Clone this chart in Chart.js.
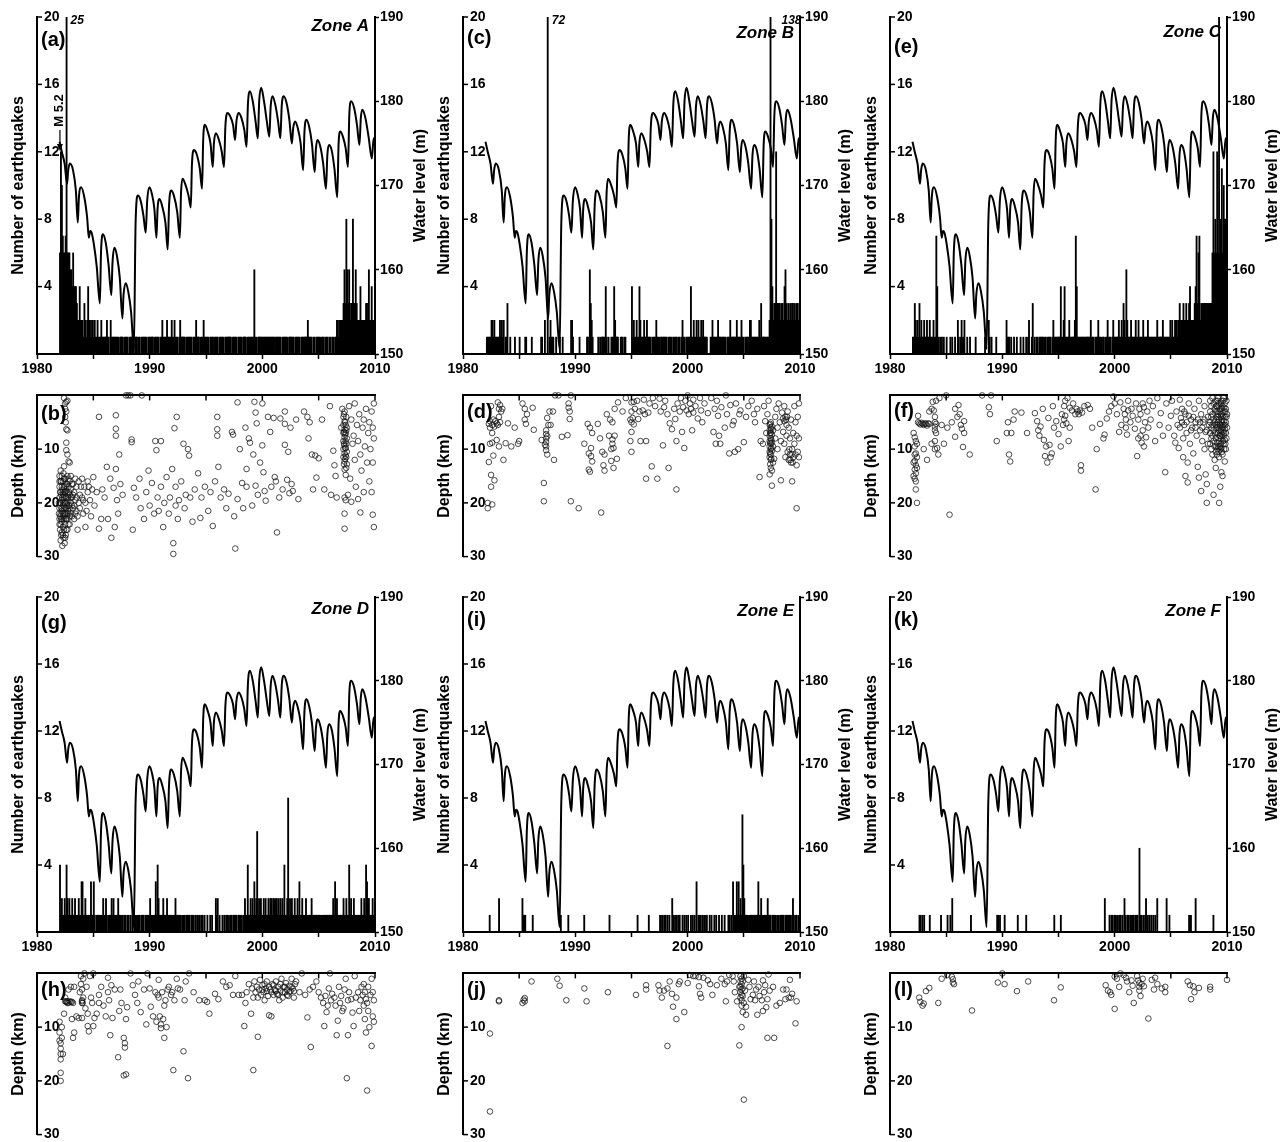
<!DOCTYPE html>
<html><head><meta charset="utf-8">
<script src="https://cdn.jsdelivr.net/npm/chart.js@4.4.1/dist/chart.umd.min.js"></script>
<style>
html,body{margin:0;padding:0;background:#fff;overflow:hidden;}
#wrap{position:relative;width:1281px;height:1142px;overflow:hidden;background:#fff;}
canvas{position:absolute;}
</style></head><body><div id="wrap"></div>
<script>
// ---------------- DATA ----------------
const xTickLabels = ['1980','1990','2000','2010'];
const countTicks = ['4','8','12','16','20'];
const waterTicks = ['150','160','170','180','190'];
const depthTicks = ['10','20','30'];
const zoneNames = ['Zone A','Zone B','Zone C','Zone D','Zone E','Zone F'];
const firstYear = 1982; // monthly bins start Jan 1982

// Water level (m) shared by all panels
const wlYear = [1982.00,1982.20,1982.45,1982.67,1982.77,1982.92,1983.20,1983.45,1983.62,1983.72,1983.92,1984.20,1984.45,1984.60,1984.72,1984.85,1985.05,1985.30,1985.58,1985.68,1985.85,1986.10,1986.35,1986.60,1986.70,1986.88,1987.10,1987.35,1987.58,1987.68,1987.88,1988.10,1988.35,1988.60,1988.75,1988.95,1989.20,1989.45,1989.65,1989.78,1989.98,1990.20,1990.42,1990.60,1990.70,1990.88,1991.10,1991.40,1991.60,1991.72,1991.90,1992.15,1992.45,1992.68,1992.78,1992.92,1993.15,1993.45,1993.65,1993.75,1993.92,1994.15,1994.45,1994.65,1994.75,1994.90,1995.15,1995.40,1995.60,1995.70,1995.88,1996.15,1996.40,1996.60,1996.72,1996.92,1997.15,1997.40,1997.58,1997.70,1997.90,1998.15,1998.40,1998.60,1998.72,1998.90,1999.15,1999.40,1999.60,1999.72,1999.90,2000.15,2000.40,2000.62,2000.74,2000.90,2001.15,2001.40,2001.60,2001.72,2001.90,2002.15,2002.40,2002.62,2002.74,2002.90,2003.15,2003.40,2003.62,2003.74,2003.92,2004.15,2004.40,2004.65,2004.76,2004.90,2005.15,2005.40,2005.65,2005.77,2005.92,2006.15,2006.40,2006.65,2006.77,2006.92,2007.15,2007.40,2007.60,2007.72,2007.88,2008.15,2008.40,2008.62,2008.74,2008.88,2009.15,2009.45,2009.72,2009.88,2010.00];
const wlLevel = [175.2,174.0,172.6,170.2,171.8,172.6,171.8,169.4,165.6,168.6,169.8,168.6,166.2,163.8,164.6,164.4,163.0,160.4,156.0,162.0,164.2,163.2,160.6,157.0,160.8,162.6,161.6,159.0,154.2,157.0,158.4,157.4,155.0,150.6,165.5,168.8,168.2,166.4,164.4,168.2,169.8,169.0,167.2,163.8,167.2,168.4,167.6,165.6,162.4,167.6,169.4,168.8,166.8,163.8,169.0,170.8,170.2,168.8,167.4,172.4,174.2,173.8,172.0,169.6,175.4,177.2,176.4,175.0,172.2,175.0,176.2,175.4,174.0,172.2,177.0,178.6,178.2,177.2,175.4,177.6,178.6,178.0,176.6,174.6,179.6,181.2,180.0,177.6,175.6,180.0,181.6,180.0,177.6,175.8,179.4,180.6,179.6,177.6,175.6,179.4,180.6,179.8,177.8,175.0,176.8,177.6,176.8,175.0,171.8,176.4,177.8,177.0,175.0,171.6,174.4,175.4,174.6,172.6,169.6,173.6,174.8,174.2,172.0,168.6,175.0,176.4,175.8,174.4,172.2,178.4,180.0,179.2,177.2,174.8,178.0,179.0,178.0,175.6,173.2,175.6,175.0];

// Monthly number of earthquakes, Jan 1982 .. Dec 2009 (one row per year)
const countsA = [
6,12,10,7,6,6,7,25,6,6,6,5, 5,4,6,4,4,4,3,2,2,4,2,2, 2,1,3,2,1,2,4,2,1,2,1,2, 1,2,1,1,2,1,1,1,2,1,1,1,
1,1,2,1,1,0,2,1,1,1,1,1, 1,1,1,0,1,1,1,1,0,1,1,1, 1,0,1,1,1,1,1,0,1,1,1,0, 1,1,0,1,1,1,1,1,1,0,1,1,
1,1,1,1,0,1,1,1,1,1,0,1, 1,2,1,1,1,1,2,1,1,1,1,2, 1,1,2,1,1,1,0,1,2,1,1,1, 1,1,0,1,1,1,1,1,1,0,1,1,
1,2,1,1,1,0,1,1,1,2,1,1, 1,1,1,0,1,1,1,1,0,1,1,1, 1,0,1,1,1,1,1,0,1,1,1,1, 1,1,1,0,1,1,1,1,1,0,1,1,
1,1,0,1,1,1,1,0,1,1,1,1, 1,1,1,5,1,1,0,1,1,1,1,1, 1,1,1,1,1,1,1,1,1,1,1,1, 1,0,1,1,1,1,1,1,0,1,1,1,
1,1,1,0,1,1,1,1,1,1,0,1, 1,1,1,1,0,1,1,1,1,1,1,1, 2,1,1,1,1,0,1,1,0,1,1,1, 1,1,0,1,1,1,0,1,1,1,0,1,
1,0,1,1,0,1,1,2,2,1,2,2, 2,2,3,5,3,8,5,3,5,2,3,3, 8,3,3,5,3,2,2,2,4,2,2,2, 2,2,3,3,2,5,2,2,4,2,2,2];
const countsB = [
0,1,1,1,1,1,2,2,1,2,1,1, 1,1,1,2,1,2,1,2,0,1,1,3, 0,0,1,0,0,0,0,1,0,0,0,0, 1,0,0,0,0,0,1,1,0,0,0,0,
0,1,0,0,0,0,0,0,0,0,0,1, 1,0,0,2,0,0,72,0,1,2,1,1, 1,0,0,1,0,0,0,1,0,0,1,0, 0,0,0,0,0,0,0,2,2,1,0,0,
0,0,0,0,1,0,0,0,0,0,0,0, 1,1,0,5,3,2,1,0,0,0,0,0, 1,0,1,0,1,1,1,1,4,1,0,1, 0,0,1,1,1,4,2,1,1,1,0,0,
1,1,1,0,1,1,0,0,0,0,0,0, 4,1,2,1,1,2,1,1,4,2,1,1, 1,2,1,1,2,1,1,1,1,0,1,1, 1,1,2,1,1,1,0,1,1,1,1,1,
1,1,0,1,1,1,1,0,1,1,0,1, 1,0,1,1,0,1,2,1,1,0,1,1, 1,1,1,4,1,1,2,1,1,2,1,2, 1,1,2,1,2,1,1,1,1,0,0,0,
1,1,2,1,1,1,1,1,2,1,1,1, 1,1,1,1,1,0,1,1,1,2,1,1, 1,1,1,1,2,1,1,1,1,2,1,1, 0,1,1,1,1,0,2,2,1,1,1,1,
1,1,1,1,2,1,3,1,1,1,1,1, 1,1,1,2,138,8,4,2,3,3,12,3, 2,3,3,2,3,3,2,4,5,3,2,3, 2,3,2,3,3,2,3,2,3,3,2,3];
const countsC = [
1,1,3,2,1,2,1,3,1,2,1,1, 2,1,1,2,1,1,2,1,1,1,2,1, 1,7,4,1,0,1,0,1,0,1,0,0, 1,0,0,0,1,0,1,0,0,1,0,0,
2,1,0,1,2,1,1,2,0,0,1,0, 0,1,0,0,0,0,0,1,0,0,0,0, 0,0,0,0,0,1,0,0,0,2,1,0, 1,0,0,0,0,1,0,0,0,0,0,0,
0,0,0,0,2,1,1,1,0,1,0,0, 1,0,0,1,0,0,0,1,0,0,1,0, 0,1,0,1,2,0,0,1,3,0,1,0, 1,1,0,1,1,1,1,1,0,1,1,0,
1,1,1,1,0,1,2,1,1,1,1,1, 1,1,4,1,1,2,4,1,1,1,1,2, 1,1,1,1,1,2,7,4,1,1,1,1, 1,1,1,1,1,1,1,1,1,1,2,1,
1,1,0,1,1,1,2,1,1,1,0,1, 1,0,1,1,2,1,1,1,0,1,2,1, 1,1,1,1,2,1,1,2,1,3,2,1, 5,2,1,1,1,2,1,1,1,1,2,1,
1,2,1,1,1,1,2,1,1,1,1,2, 1,1,1,1,1,1,1,1,1,2,1,1, 1,1,1,2,1,1,1,1,1,1,1,2, 1,2,1,1,2,2,2,1,2,3,2,2,
2,3,2,2,3,2,2,3,4,2,2,2, 2,3,4,7,3,6,7,2,3,3,3,3, 3,3,3,3,3,3,3,3,6,12,6,8, 6,12,6,20,6,8,11,6,10,8,8,6];
const countsD = [
4,1,2,1,1,2,1,4,2,1,2,1, 1,2,1,1,2,1,1,1,2,1,1,3, 3,1,1,2,1,1,1,1,1,3,1,1, 3,1,0,1,1,1,1,1,1,1,2,1,
1,2,1,0,1,1,1,2,1,2,1,1, 1,1,2,1,1,0,1,1,0,1,1,0, 1,1,0,1,0,1,0,1,1,1,0,1, 1,1,0,1,1,1,0,1,1,1,1,1,
2,1,1,1,1,1,3,1,4,2,1,1, 1,1,2,1,1,1,2,1,1,1,1,1, 1,1,1,2,1,1,1,1,1,0,1,1, 1,1,0,1,1,1,1,0,1,1,1,0,
1,0,1,1,0,1,0,1,1,0,1,0, 0,1,0,0,1,0,1,0,0,0,2,1, 2,0,1,0,0,1,0,1,0,1,1,0, 1,0,1,1,0,1,1,1,1,0,1,1,
1,1,0,1,1,2,1,1,4,1,1,2, 1,2,1,3,1,2,6,1,2,1,2,1, 1,2,1,2,1,1,2,1,2,2,1,2, 2,1,2,2,1,2,1,2,1,2,1,4,
1,1,2,8,1,2,1,2,1,1,2,1, 1,2,1,3,1,1,2,1,1,1,2,1, 1,1,1,1,2,1,1,1,1,1,1,1, 1,1,1,1,1,1,1,1,1,1,1,1,
1,1,1,2,1,3,1,2,1,1,1,1, 1,1,2,1,1,2,1,1,4,1,2,1, 1,2,1,1,1,1,1,1,1,2,1,1, 2,1,4,3,2,2,1,1,1,2,1,1];
const countsE = [
0,0,0,0,1,0,0,0,0,0,0,0, 0,0,2,0,0,0,0,0,0,0,0,0, 0,0,0,0,0,0,0,0,0,0,0,0, 0,0,0,2,1,1,1,0,0,0,0,0,
0,0,1,0,0,0,0,0,0,0,0,0, 0,0,0,0,0,0,0,0,0,0,0,0, 0,0,0,0,0,0,0,0,1,0,0,0, 0,0,0,0,1,0,0,0,0,0,0,0,
0,0,0,0,0,0,0,0,0,1,0,0, 0,0,0,0,0,0,0,0,0,0,0,0, 0,0,0,0,0,0,0,0,0,0,0,0, 1,0,0,0,0,0,0,0,0,0,0,0,
0,0,0,0,0,0,0,0,0,0,0,0, 0,0,0,0,0,0,1,0,0,0,0,0, 0,0,0,0,0,0,1,0,0,0,0,0, 0,0,0,0,0,0,1,1,0,1,0,1,
1,0,1,0,1,0,0,2,1,0,1,0, 1,0,1,1,0,0,1,0,1,0,1,0, 1,0,0,1,0,1,0,1,0,3,0,1, 1,1,0,1,0,1,1,0,1,0,0,1,
0,1,0,0,1,0,1,0,0,1,0,0, 1,0,0,1,0,0,0,1,1,0,1,0, 3,0,1,1,3,1,3,1,2,1,7,4, 2,1,1,1,1,0,1,1,1,1,1,1,
1,1,1,3,1,1,2,1,1,1,1,1, 1,2,1,1,1,0,1,1,1,1,0,1, 1,1,0,1,1,1,1,0,1,1,1,1, 1,1,0,1,2,1,0,1,1,0,1,1];
const countsF = [
0,0,0,0,0,0,0,1,1,0,1,0, 1,0,0,0,0,0,1,0,0,0,0,0, 0,0,0,0,0,0,1,0,0,0,0,0, 0,1,0,0,1,0,2,0,0,0,0,0,
0,0,0,0,0,0,0,0,0,0,0,0, 0,0,1,0,0,0,0,0,0,0,0,0, 0,0,0,0,0,0,0,0,0,0,0,0, 0,0,0,0,0,0,1,1,0,1,0,0,
0,0,1,0,0,0,0,0,0,0,0,0, 0,0,0,0,1,0,0,0,0,0,0,0, 0,1,0,0,0,0,0,0,0,0,0,0, 0,0,0,0,0,0,0,0,0,0,0,0,
0,0,0,0,0,0,0,1,0,0,0,0, 0,0,1,0,0,0,0,0,0,0,0,0, 0,0,0,0,0,0,0,0,0,0,0,0, 0,0,0,0,0,0,0,0,0,0,0,0,
0,0,0,0,0,0,0,0,0,0,0,0, 0,2,0,0,0,0,1,0,1,1,0,1, 1,0,1,1,0,1,1,0,1,0,2,1, 0,1,1,0,1,1,0,1,1,0,1,1,
1,0,5,1,1,0,1,0,1,2,0,1, 0,1,0,1,0,1,0,1,0,2,0,0, 0,0,0,0,0,0,0,2,0,0,1,0, 0,0,0,0,0,0,0,0,0,0,0,0,
0,0,0,0,0,0,0,1,1,1,0,0, 0,0,2,0,0,0,0,0,0,0,0,0, 0,0,0,0,0,0,0,0,0,1,0,0, 0,0,0,0,0,0,0,0,0,0,0,0];

// Earthquake focal depth: [decimal year, depth km]
const depthA = [[1982.0,15],[1982.0,17],[1982.0,19],[1982.0,21],[1982.0,23],[1982.05,25],[1982.05,18],[1982.1,14],[1982.1,16],[1982.1,20],[1982.1,22],[1982.1,24],[1982.1,27],[1982.15,18.5],[1982.15,26],[1982.2,15],[1982.2,17],[1982.2,19.5],[1982.2,21.5],[1982.2,23.5],[1982.25,28],[1982.3,16],[1982.3,18],[1982.3,20],[1982.3,22],[1982.3,24.5],[1982.35,14.5],[1982.35,26.5],[1982.4,17],[1982.4,19],[1982.4,21],[1982.4,23],[1982.45,27.5],[1982.5,15.5],[1982.5,18],[1982.5,20],[1982.5,22],[1982.5,24],[1982.55,26],[1982.6,16.5],[1982.6,19],[1982.6,21],[1982.6,23],[1982.7,15],[1982.7,18],[1982.7,20.5],[1982.7,25],[1982.8,17],[1982.8,19.5],[1982.8,22],[1982.9,16],[1982.9,18.5],[1982.9,21],[1982.9,24],[1983.0,15],[1983.0,17.5],[1983.0,20],[1983.1,19],[1983.1,22.5],[1983.2,16.5],[1983.2,21],[1983.3,18],[1983.3,23],[1983.4,15.5],[1983.4,19.5],[1983.5,17],[1983.5,21.5],[1983.6,22.5],[1983.6,25],
[1981.95,20],[1981.95,22],[1982.0,16],[1982.0,24],[1982.05,20],[1982.05,22.5],[1982.1,18],[1982.15,16],[1982.15,21],[1982.15,23],[1982.2,25.5],[1982.25,17.5],[1982.25,19],[1982.25,21],[1982.25,23],[1982.3,26],[1982.35,18.5],[1982.35,20.5],[1982.35,22.5],[1982.4,15.5],[1982.4,25],[1982.45,18],[1982.45,20],[1982.45,22],[1982.5,16.8],[1982.5,26.5],[1982.55,19],[1982.55,21],[1982.55,23],[1982.6,17.8],[1982.6,25],[1982.65,20],[1982.65,22],[1982.7,16.5],[1982.7,23],[1982.75,19],[1982.75,21.5],[1982.8,15.5],[1982.8,24],[1982.85,18],[1982.85,20.5],[1982.9,22.5],[1983.0,19],[1983.0,22],[1983.1,16.5],[1983.1,20.5],[1983.2,18.5],[1983.3,20.5],[1983.4,22],[1983.5,19],[1983.7,20],[1983.9,17],[1984.1,19.5],[1984.4,21.5],[1984.6,17],
[1982.4,0.5],[1982.5,1.5],[1982.6,1.2],[1982.7,1],[1982.5,2.5],[1982.6,3],[1982.5,4],[1982.55,5],[1982.6,6.3],[1982.7,6.5],[1982.6,8.8],[1982.6,10.2],[1982.7,11],[1982.8,12.3],[1982.4,13.2],[1982.9,12.5],
[1983.7,16],[1983.8,18.5],[1983.8,21],[1984.0,15.5],[1984.0,19],[1984.1,22],[1984.2,17],[1984.3,20],[1984.3,24.5],[1984.5,18],[1984.5,16],[1984.7,19.5],[1984.8,22.5],[1984.9,17.5],[1985.0,15.2],[1985.1,20.5],[1985.3,18],[1985.5,4],[1985.5,24.8],[1985.7,23],[1985.8,17.5],[1986.0,19],[1986.2,13.3],[1986.3,23],[1986.5,15.5],[1986.6,26.5],[1986.8,17.2],[1986.9,24.5],[1987.0,3.7],[1987.0,6.2],[1987.0,7.5],[1987.0,13.7],[1987.1,19.5],[1987.2,22],[1987.3,11],[1987.4,16.5],[1987.6,18.5],[1987.9,0],[1988.1,0],[1988.3,0],[1988.4,8.2],[1988.4,8.7],[1988.5,25],[1988.6,17.2],[1988.8,19],[1989.1,15.5],[1989.2,21],[1989.3,0],[1989.5,23],[1989.7,18],[1989.9,14],[1990.0,20.5],[1990.2,16.3],[1990.4,22],[1990.5,8.5],[1990.6,10.2],[1990.7,19],[1990.8,21.5],[1991.0,8.5],[1991.0,17],[1991.2,24.5],[1991.3,20],[1991.5,15.2],[1991.7,22],[1991.8,19],[1992.0,13.7],[1992.1,27.5],[1992.1,29.5],[1992.2,6.1],[1992.3,17],[1992.3,20.5],[1992.4,4],[1992.5,23],[1992.6,19.5],[1992.8,16],[1993.0,9],[1993.1,21],[1993.2,18.5],[1993.4,10],[1993.5,11.2],[1993.6,19],[1993.8,23.5],[1994.0,17.5],[1994.3,14.5],[1994.5,22.8],[1994.6,19],[1994.9,17],[1995.2,21.5],[1995.4,18],[1995.6,24.3],[1995.8,16],[1996.0,4],[1996.0,6.3],[1996.0,7.5],[1996.1,13.3],[1996.3,19],[1996.6,17.5],[1996.8,21],[1997.0,18.3],[1997.3,6.8],[1997.4,7.3],[1997.5,22.5],[1997.6,28.5],[1997.8,1.3],[1997.8,19.3],[1998.0,10],[1998.2,16.3],[1998.3,21],[1998.5,6],[1998.6,13.7],[1998.6,17],[1998.8,8],[1998.9,8.8],[1999.1,20.5],[1999.2,11],[1999.3,1.2],[1999.4,3.2],[1999.4,16.8],[1999.5,5.2],[1999.6,18.5],[1999.8,12.5],[2000.0,1.5],[2000.0,9.3],[2000.1,14.3],[2000.2,17.8],[2000.3,19.6],[2000.5,4],[2000.7,6.8],[2000.8,17],[2001.0,4.2],[2001.1,15.2],[2001.2,16],[2001.3,25.5],[2001.5,19],[2001.6,4.3],[2001.8,17.5],[2002.0,3],[2002.0,5.3],[2002.0,9.2],[2002.2,15.7],[2002.3,10.5],[2002.4,18.2],[2002.5,6],[2002.6,16.5],[2002.7,17.8],[2003.0,4.5],[2003.2,19.3],[2003.7,3],[2004.0,4],[2004.1,8],[2004.2,5],[2004.4,11],[2004.5,17.5],[2004.7,11.2],[2004.8,15.3],[2005.0,11.7],[2005.3,4.5],[2005.5,17.5],[2006.0,2],[2006.1,18.5],[2006.3,10.3],[2006.4,13],[2006.5,15],[2006.6,19],
[2007.0,6],[2007.1,2.5],[2007.2,4],[2007.2,5.5],[2007.2,7],[2007.2,8.5],[2007.2,10],[2007.2,11.5],[2007.3,3],[2007.3,4.8],[2007.3,6.3],[2007.3,7.8],[2007.3,9.3],[2007.3,10.8],[2007.3,12.3],[2007.3,13.8],[2007.4,5.5],[2007.4,7],[2007.4,8.5],[2007.4,9.8],[2007.4,11.2],[2007.4,14.8],[2007.5,6],[2007.5,8],[2007.5,10.5],[2007.5,12.8],[2007.25,3.5],[2007.25,6.8],[2007.25,9],[2007.25,12.8],[2007.35,5],[2007.35,7.3],[2007.35,9.8],[2007.35,11.8],[2007.45,4],[2007.45,6.5],[2007.45,9],[2007.45,11.5],[2007.45,13.5],[2007.3,19],[2007.4,19.5],[2007.3,22],[2007.3,24.8],[2007.6,18.5],[2007.7,2],[2007.8,15.5],[2007.9,19.8],[2007.9,4.5],[2008.0,9],[2008.1,7.5],[2008.2,12],[2008.2,1.5],[2008.3,17],[2008.4,5.5],[2008.5,8.5],[2008.5,19.3],[2008.6,3.5],[2008.7,11],[2008.7,21.8],[2008.8,14],[2008.9,6],[2009.0,4.5],[2009.0,18],[2009.1,9.5],[2009.2,2.5],[2009.3,12.5],[2009.4,7],[2009.5,16],[2009.5,5],[2009.6,10],[2009.7,3],[2009.7,18],[2009.8,6],[2009.8,12.5],[2009.8,22.2],[2009.9,24.5],[2009.9,8],[2009.9,1.5]];
const depthB = [[1982.2,20],[1982.2,21],[1982.3,12.4],[1982.3,5.3],[1982.4,4.8],[1982.4,6],[1982.4,9],[1982.5,14.8],[1982.5,17],[1982.5,2],[1982.6,5.5],[1982.6,7],[1982.6,8.8],[1982.6,20.3],[1982.7,11.2],[1982.7,4.5],[1982.8,15.8],[1982.8,5.8],[1982.9,4.8],[1983.0,5.2],[1983.0,8.3],[1983.1,1.3],[1983.1,5.5],[1983.2,2.5],[1983.2,4],[1983.2,9.5],[1983.3,1.8],[1983.3,5],[1983.4,3],[1983.5,2.5],[1983.6,12],[1983.8,8.9],[1984.0,5.2],[1984.3,9.5],[1984.6,6],[1984.9,9],[1985.0,8.5],[1985.3,1.5],[1985.5,2.5],[1985.5,4.5],[1985.6,5.3],[1985.7,3.5],[1986.2,2.3],[1986.3,6.4],[1987.0,8.3],[1987.2,16.3],[1987.2,19.7],[1987.3,9.2],[1987.4,6.5],[1987.4,7.2],[1987.4,8],[1987.4,8.7],[1987.4,9.5],[1987.4,10.2],[1987.5,11],[1987.5,4.2],[1987.5,7.6],[1987.6,5.5],[1987.7,3],[1987.8,5.5],[1988.0,3],[1988.1,12],[1988.2,0],[1988.5,0],[1988.8,7.7],[1989.3,7.4],[1989.4,1.5],[1989.4,2.3],[1989.5,3],[1989.5,4.4],[1989.6,19.7],[1989.6,0],[1990.3,21],[1990.8,9],[1991.1,5.3],[1991.2,10.8],[1991.2,13.8],[1991.3,14.2],[1991.3,6],[1991.4,9.8],[1991.4,11.3],[1991.5,12.3],[1991.5,7],[1992.0,5.3],[1992.2,8],[1992.3,21.8],[1992.4,10.5],[1992.5,13],[1992.6,14],[1992.6,11],[1992.8,3.5],[1993.0,7.5],[1993.1,4.5],[1993.2,12.2],[1993.2,10],[1993.3,5],[1993.3,8.2],[1993.3,9],[1993.4,13.5],[1993.4,9.8],[1993.5,7.5],[1993.5,2.5],[1993.7,11.8],[1993.8,1.3],[1994.2,3],[1994.5,0.5],[1994.9,4.5],[1994.9,8.5],[1995.0,1.3],[1995.0,3],[1995.0,5],[1995.0,6.8],[1995.0,10.5],[1995.1,4.2],[1995.2,1.2],[1995.2,5.4],[1995.3,2.5],[1995.5,1],[1995.6,4.4],[1995.7,3],[1995.8,8.5],[1996.0,2.8],[1996.1,0.8],[1996.2,3.5],[1996.3,15.5],[1996.3,8.5],[1996.5,3.2],[1996.6,1.5],[1996.8,13.2],[1996.9,0.5],[1997.1,2],[1997.3,15.5],[1997.5,0.6],[1997.6,3],[1997.8,9.3],[1997.9,2.2],[1998.0,1],[1998.2,3.5],[1998.3,13.5],[1998.4,5.2],[1998.6,6.3],[1998.8,2.5],[1998.9,4.4],[1999.0,8.5],[1999.0,17.5],[1999.1,1.5],[1999.3,3],[1999.4,0.5],[1999.5,6.8],[1999.6,2.2],[1999.7,9.8],[1999.8,1],[1999.9,2.8],[2000.0,0],[2000.1,3.5],[2000.2,1.5],[2000.3,2.5],[2000.4,6.5],[2000.5,0.8],[2000.5,3.2],[2000.7,2],[2000.9,4.3],[2001.1,0.5],[2001.2,2.8],[2001.3,5],[2001.5,1.5],[2001.8,3.3],[2002.1,0.5],[2002.3,6.8],[2002.4,2.5],[2002.5,9],[2002.6,1],[2002.7,3.8],[2002.8,7.5],[2002.9,9],[2003.0,2.2],[2003.3,6],[2003.4,0],[2003.5,3.5],[2003.7,10.8],[2003.8,1.8],[2004.0,5.5],[2004.1,4.8],[2004.2,10.5],[2004.3,1.5],[2004.5,10],[2004.6,3.5],[2004.7,2.8],[2005.0,8.7],[2005.2,4],[2005.4,2],[2005.7,1],[2005.9,3.5],[2006.0,5],[2006.2,2.5],[2006.4,15.2],[2006.5,8.5],[2006.7,9],[2006.8,2],[2006.9,4.8],[2007.0,7],[2007.1,3.5],[2007.2,1],
[2007.3,5.5],[2007.3,6.5],[2007.3,7.5],[2007.3,8.5],[2007.3,9.5],[2007.3,10.5],[2007.3,11.5],[2007.4,5],[2007.4,6],[2007.4,7],[2007.4,8],[2007.4,9],[2007.4,10],[2007.4,11],[2007.4,12],[2007.4,13.5],[2007.5,5.8],[2007.5,7.3],[2007.5,8.8],[2007.5,10.3],[2007.5,14],[2007.5,16.8],[2007.6,6.5],[2007.6,9.5],[2007.6,12.5],[2007.35,5.3],[2007.35,7],[2007.35,8.8],[2007.35,10.8],[2007.35,12.8],[2007.45,6.3],[2007.45,8.3],[2007.45,9.8],[2007.45,11.8],[2007.3,14.7],[2007.7,11.8],[2007.8,4],[2007.8,8],[2007.9,2.5],[2008.0,6],[2008.0,10],[2008.1,1.5],[2008.2,5],[2008.3,8.5],[2008.3,15.8],[2008.4,3.2],[2008.5,4.3],[2008.5,6.8],[2008.6,2],[2008.6,4.8],[2008.6,9],[2008.7,4],[2008.7,11.5],[2008.75,4.5],[2008.8,5.5],[2008.8,7.5],[2008.85,4],[2008.9,10.5],[2008.9,3],[2009.0,12],[2009.0,6],[2009.05,10],[2009.1,11],[2009.1,8],[2009.15,12],[2009.2,12.5],[2009.2,4.5],[2009.25,11],[2009.3,10],[2009.3,16],[2009.35,12.5],[2009.4,11.5],[2009.4,7],[2009.5,9],[2009.5,2],[2009.6,11],[2009.6,5],[2009.7,7.5],[2009.7,13],[2009.7,21],[2009.8,4],[2009.8,10.5],[2009.9,8],[2009.9,11.5],[2009.9,1.5]];
const depthC = [[1982.1,7],[1982.1,12.5],[1982.1,15],[1982.2,7.8],[1982.2,9.5],[1982.2,11],[1982.2,12.2],[1982.2,13.8],[1982.2,15.5],[1982.3,8.5],[1982.3,10.8],[1982.3,13],[1982.3,14.5],[1982.3,16],[1982.3,17.5],[1982.4,9],[1982.4,11.5],[1982.4,13.5],[1982.4,20],[1982.5,3.8],[1982.5,5],[1982.6,5.2],[1982.7,5.4],[1982.8,5.1],[1982.9,5.3],[1983.0,5.5],[1983.0,10],[1983.1,5.2],[1983.2,5.3],[1983.3,5.6],[1983.3,12],[1983.4,5.2],[1983.5,5.3],[1983.5,3],[1983.7,2.5],[1983.7,9],[1983.8,1.2],[1983.9,2.8],[1984.0,4],[1984.0,5],[1984.0,5.8],[1984.0,6.5],[1984.0,8.5],[1984.0,10],[1984.1,5.3],[1984.1,7],[1984.1,1],[1984.2,9.8],[1984.3,11],[1984.4,0.5],[1984.6,5.5],[1984.8,9],[1985.0,0],[1985.1,6],[1985.3,22.2],[1985.5,5],[1985.8,2.5],[1985.8,7.7],[1986.0,4],[1986.1,1.8],[1986.2,3.5],[1986.3,5.5],[1986.4,6.2],[1986.5,9.6],[1986.6,4.8],[1986.6,7],[1987.1,11],[1988.2,0],[1988.8,2.2],[1988.9,3.5],[1989.0,0],[1989.5,8.5],[1990.4,7],[1990.5,5],[1990.6,11],[1990.7,12.3],[1990.8,7],[1991.0,4.5],[1991.1,3],[1991.7,3.2],[1992.2,7],[1992.9,3.3],[1993.1,4.8],[1993.2,6.5],[1993.3,7.5],[1993.4,5.8],[1993.6,2.5],[1993.7,8.3],[1993.8,11.3],[1993.9,9.5],[1994.0,12.5],[1994.1,4.2],[1994.2,9.2],[1994.3,11.5],[1994.4,10.8],[1994.5,2],[1994.6,6],[1994.8,4.8],[1995.0,7.2],[1995.2,9.5],[1995.3,3.5],[1995.4,5.5],[1995.5,2],[1995.5,4.5],[1995.6,1],[1995.6,3.8],[1995.7,5.2],[1995.8,0.5],[1995.9,8.5],[1996.0,6],[1996.0,2.3],[1996.2,2.8],[1996.3,1.5],[1996.5,3.5],[1996.6,2.5],[1996.7,3],[1996.8,3.5],[1996.9,2.8],[1997.0,13],[1997.0,14],[1997.1,3.2],[1997.3,2],[1997.6,1.8],[1997.8,2.5],[1998.0,6],[1998.3,17.5],[1998.4,10],[1998.7,5.3],[1999.0,8],[1999.1,7.3],[1999.3,4.3],[1999.5,3],[1999.7,2],[1999.9,0.2],[2000.0,1.5],[2000.2,3.5],[2000.4,6.8],[2000.5,1.3],[2000.6,5.5],[2000.8,2.5],[2000.9,3.5],[2001.0,4.5],[2001.0,6],[2001.1,7.3],[2001.2,2.8],[2001.2,1],[2001.4,5],[2001.5,2.5],[2001.6,3.8],[2001.8,6.2],[2001.9,1.5],[2002.0,11.3],[2002.1,4.5],[2002.1,8],[2002.2,2.5],[2002.3,3.5],[2002.3,7.5],[2002.4,8.8],[2002.5,1.5],[2002.5,6.5],[2002.6,9.5],[2002.6,2.2],[2002.7,5],[2002.8,7.8],[2002.9,3],[2003.0,6],[2003.1,1],[2003.2,4.5],[2003.4,2],[2003.6,8.5],[2003.8,0.5],[2004.0,5.5],[2004.1,3.3],[2004.3,7.5],[2004.5,14.3],[2004.6,1.5],[2004.8,6],[2005.0,3.8],[2005.1,1],[2005.3,7.5],[2005.4,8.8],[2005.5,3],[2005.6,5.5],[2005.7,9.8],[2005.8,0.8],[2005.8,6],[2005.9,4.2],[2006.0,2.5],[2006.0,5],[2006.1,8],[2006.1,11.5],[2006.2,5.5],[2006.2,3],[2006.3,15],[2006.3,3.5],[2006.4,7],[2006.4,5],[2006.5,12.5],[2006.5,16.2],[2006.6,1.5],[2006.6,3.8],[2006.7,9],[2006.8,4.5],[2006.8,6.5],[2006.9,6],[2007.0,10.8],[2007.0,4],[2007.1,2.5],[2007.2,5],[2007.2,6],[2007.3,7.5],[2007.4,13.3],[2007.4,4.5],[2007.5,15.3],[2007.5,1],[2007.6,6.5],[2007.6,5],[2007.7,17.8],[2007.7,3.5],[2007.8,8.5],[2007.8,6],[2007.9,5],[2008.0,10],[2008.0,2],[2008.0,4.5],[2008.1,14.7],[2008.1,6.8],[2008.2,16.5],[2008.2,20],[2008.2,6.5],[2008.3,4],[2008.3,9],[2008.4,5.5],
[2008.5,1],[2008.5,3],[2008.5,5],[2008.5,7],[2008.5,9],[2008.6,2],[2008.6,4],[2008.6,6],[2008.6,8],[2008.6,10],[2008.7,0.5],[2008.7,3.5],[2008.7,5.5],[2008.7,7.5],[2008.7,11],[2008.8,18.5],[2008.8,1.5],[2008.8,4.5],[2008.8,6.5],[2008.8,8.5],[2008.9,2.5],[2008.9,5],[2008.9,7],[2008.9,9.5],[2008.9,12],[2009.0,1],[2009.0,3],[2009.0,5.5],[2009.0,8],[2009.0,10.5],[2009.0,13.5],[2009.05,2],[2009.05,4.5],[2009.05,7],[2009.05,9.5],[2009.1,2],[2009.1,4],[2009.1,6],[2009.1,8.8],[2009.1,11],[2009.15,1],[2009.15,3],[2009.15,5.5],[2009.15,10],[2009.2,0.5],[2009.2,3.5],[2009.2,5],[2009.2,7],[2009.2,9.5],[2009.25,2],[2009.25,4],[2009.25,6],[2009.25,8],[2009.25,10.5],[2009.3,1.5],[2009.3,4.5],[2009.3,6.5],[2009.3,8.5],[2009.3,11.5],[2009.3,20],[2009.35,3],[2009.35,5.5],[2009.35,7.5],[2009.35,9.5],[2009.4,2.5],[2009.4,5.5],[2009.4,7.5],[2009.4,10],[2009.4,17],[2009.45,1.5],[2009.45,4],[2009.45,6.5],[2009.45,9],[2009.5,1],[2009.5,3.5],[2009.5,6],[2009.5,8],[2009.5,9.8],[2009.5,14.3],[2009.55,2.5],[2009.55,5],[2009.55,7.3],[2009.55,10.5],[2009.6,2],[2009.6,4.5],[2009.6,6.8],[2009.6,11],[2009.6,15],[2009.65,1],[2009.65,3.8],[2009.65,6],[2009.65,8.5],[2009.7,0.5],[2009.7,3],[2009.7,5.5],[2009.7,7.5],[2009.7,9],[2009.75,2.3],[2009.75,4.8],[2009.75,7],[2009.75,10],[2009.8,1.5],[2009.8,4],[2009.8,6.3],[2009.8,8.3],[2009.8,12.3],[2009.85,3],[2009.85,5.5],[2009.85,9],[2009.9,2.5],[2009.9,5],[2009.9,7],[2009.9,10],[2009.95,1],[2009.95,4],[2009.95,8],[2010.0,3.5],[2010.0,6]];
const depthD = [[1982.0,9],[1982.0,11],[1982.0,12.5],[1982.1,13],[1982.1,14],[1982.1,15],[1982.1,16],[1982.1,18.5],[1982.1,20],[1982.2,10],[1982.2,12],[1982.3,15],[1982.4,7.5],[1982.5,4.5],[1982.5,5.2],[1982.6,5.3],[1982.6,5.2],[1982.7,5.2],[1982.7,5.5],[1982.8,5.5],[1982.8,3],[1982.9,5.2],[1983.0,5.3],[1983.0,2.5],[1983.1,8.5],[1983.1,5.3],[1983.2,5.5],[1983.2,12],[1983.3,2.5],[1983.3,11],[1983.5,8],[1983.7,8.3],[1983.8,3.5],[1983.9,0.5],[1983.9,2],[1984.0,5.2],[1984.0,5.5],[1984.0,5],[1984.05,5.5],[1984.0,3],[1984.0,8.3],[1984.1,1],[1984.1,4.5],[1984.2,0],[1984.3,6.5],[1984.4,2.5],[1984.5,7.5],[1984.5,9.8],[1984.6,10.8],[1984.7,0.5],[1984.8,4.5],[1984.9,5.5],[1985.0,0],[1985.0,9.8],[1985.1,8.3],[1985.3,7.5],[1985.5,4],[1985.5,5.5],[1985.7,2.5],[1985.9,6],[1986.1,8],[1986.3,0.8],[1986.3,3.5],[1986.4,5],[1986.5,11.5],[1986.6,2.2],[1986.7,8.3],[1986.9,3],[1987.2,15.6],[1987.3,7],[1987.4,3],[1987.5,5.5],[1987.7,12],[1987.7,19],[1987.8,13],[1987.8,13.8],[1987.9,18.8],[1987.9,8.5],[1988.0,6.3],[1988.3,0],[1988.5,2.2],[1988.7,4],[1988.9,5.5],[1989.0,1.5],[1989.2,7.2],[1989.5,3],[1989.7,9.5],[1989.8,0],[1990.0,2.8],[1990.1,6.2],[1990.3,8],[1990.5,3.5],[1990.6,9],[1990.7,4],[1990.8,4.5],[1990.8,1.2],[1990.9,8],[1991.0,9.5],[1991.0,10.2],[1991.1,3.5],[1991.2,8.5],[1991.3,6],[1991.3,12],[1991.4,5],[1991.5,10],[1991.6,3],[1991.7,2.5],[1991.9,4],[1992.0,3.5],[1992.1,18],[1992.2,5],[1992.4,1],[1992.5,2.8],[1992.7,3],[1993.0,14.5],[1993.1,5],[1993.2,1.5],[1993.4,19.5],[1993.5,0],[1993.9,3.5],[1994.4,5],[1994.9,5],[1995.1,5.3],[1995.3,7.5],[1995.8,3.8],[1996.1,4.8],[1996.5,1.5],[1996.8,2.5],[1997.1,2.2],[1997.4,4],[1997.6,0.5],[1997.9,4],[1998.2,4],[1998.4,9.8],[1998.5,5.5],[1998.6,3.5],[1998.8,2],[1999.0,7.5],[1999.1,2.8],[1999.2,18],[1999.2,4.5],[1999.3,1.5],[1999.4,3.5],[1999.5,2.5],[1999.6,4.5],[1999.6,11.8],[1999.7,3],[1999.8,1.2],[1999.9,4],[2000.0,2.2],[2000.0,3],[2000.1,3.5],[2000.2,5],[2000.2,2],[2000.3,2.8],[2000.4,1.5],[2000.4,3.3],[2000.5,4.2],[2000.6,7.8],[2000.6,2.5],[2000.7,3],[2000.8,8],[2000.8,3.5],[2000.9,2],[2001.0,4],[2001.0,2.2],[2001.1,3],[2001.2,1.5],[2001.2,3.3],[2001.3,3.8],[2001.4,2.5],[2001.4,4],[2001.5,5],[2001.6,3.2],[2001.6,2],[2001.7,1],[2001.8,4.5],[2001.8,3.5],[2001.9,2.5],[2002.0,3.5],[2002.0,2.5],[2002.1,1.8],[2002.2,3],[2002.2,4],[2002.3,4.2],[2002.4,2.3],[2002.4,3.5],[2002.5,3.3],[2002.6,1],[2002.6,2.5],[2002.7,2.8],[2002.8,4.5],[2002.8,3.3],[2002.9,2],[2003.0,1.5],[2003.3,3.5],[2003.5,0],[2003.8,4],[2004.0,8.2],[2004.2,3],[2004.3,13.7],[2004.5,2.5],[2004.8,1.5],[2005.0,3.5],[2005.2,4.5],[2005.4,5.5],[2005.5,9.8],[2005.6,4.2],[2005.7,7.2],[2005.8,6],[2005.9,2.8],[2006.0,0],[2006.1,5],[2006.2,3.8],[2006.4,4.5],[2006.5,6],[2006.6,11.5],[2006.7,8.8],[2006.8,2.5],[2006.9,5.5],[2007.0,4.2],[2007.1,7],[2007.2,6.5],[2007.3,3],[2007.4,1],[2007.5,19.5],[2007.6,11.5],[2007.6,5],[2007.7,3.5],[2007.9,4.8],[2008.0,7.3],[2008.1,9.8],[2008.2,0.5],[2008.3,4.5],[2008.5,3.5],[2008.6,7],[2008.7,5],[2008.8,2.5],[2008.9,4],[2009.0,6],[2009.0,2],[2009.1,3.5],[2009.1,8.5],[2009.2,4.8],[2009.2,11],[2009.3,21.8],[2009.3,5.5],[2009.4,7],[2009.4,2.5],[2009.5,10],[2009.6,4],[2009.7,1],[2009.7,13.5],[2009.8,8],[2009.8,3.5],[2009.9,9],[2009.9,5]];
const depthE = [[1982.4,11.2],[1982.4,25.7],[1983.2,5.2],[1983.2,5],[1985.3,5.5],[1985.4,4.9],[1985.5,5.2],[1985.5,4.6],[1986.1,1.5],[1988.4,1],[1988.6,2.3],[1989.2,5],[1990.8,2.8],[1991.0,5.2],[1992.9,3.5],[1995.4,4],[1996.3,2.2],[1996.3,3],[1997.4,2.2],[1997.5,3.2],[1997.7,4.5],[1997.9,3.2],[1998.2,2.8],[1998.2,13.5],[1998.4,1.5],[1998.6,3.8],[1998.7,6.2],[1999.0,4.5],[1999.0,8.5],[1999.2,2],[1999.3,1.5],[1999.7,7.2],[2000.0,1.8],[2000.2,0.3],[2000.5,0.5],[2000.7,0.5],[2001.0,0.7],[2001.0,2.4],[2001.1,3.8],[2001.2,4.5],[2001.4,0.8],[2001.8,1.3],[2002.0,2],[2002.2,4],[2002.6,2.2],[2003.0,1],[2003.3,2],[2003.4,5.2],[2003.5,1.5],[2003.7,0.3],[2004.0,0.5],[2004.1,1.5],[2004.2,3.5],[2004.4,5.2],[2004.6,2.5],[2004.6,13.4],[2004.7,0.5],[2004.7,1.5],[2004.7,2.5],[2004.7,3.5],[2004.7,4.5],[2004.8,1],[2004.8,2],[2004.8,3],[2004.8,4],[2004.8,5],[2004.8,6],[2004.8,10],[2004.9,1.5],[2004.9,2.8],[2004.9,4.2],[2004.9,7.2],[2005.0,0.5],[2005.0,5.5],[2005.0,23.5],[2005.1,3.2],[2005.2,6.2],[2005.2,7.7],[2005.4,1.2],[2005.5,2.5],[2005.6,4.8],[2005.8,4],[2005.9,1.5],[2006.0,5],[2006.1,3],[2006.2,7.7],[2006.3,2.5],[2006.4,4.2],[2006.6,5],[2006.7,1.3],[2006.7,7],[2006.8,3.5],[2006.9,2.2],[2007.0,6.3],[2007.1,12],[2007.1,4.8],[2007.2,0.2],[2007.3,3.2],[2007.6,2.5],[2007.7,12],[2007.9,6],[2008.2,5.5],[2008.5,3],[2008.7,4.8],[2008.8,3],[2009.0,4.5],[2009.1,1.2],[2009.2,4.5],[2009.6,9.3],[2009.7,5.2],[2009.3,3.8]];
const depthF = [[1982.6,4.5],[1982.7,5.3],[1982.9,6],[1983.0,5.6],[1983.2,3.3],[1983.5,2.7],[1984.3,5.5],[1984.6,1],[1985.1,0.3],[1985.5,0.6],[1985.6,1.1],[1985.6,1.7],[1985.7,2],[1987.3,6.9],[1989.6,1.7],[1990.0,0],[1990.2,2],[1991.3,3.3],[1992.3,1.5],[1994.6,5],[1995.2,2.6],[1999.2,2.2],[1999.4,3.2],[1999.6,3.5],[1999.7,4],[2000.0,0.6],[2000.0,6.6],[2000.2,1],[2000.4,2.5],[2000.5,0],[2000.8,0.3],[2001.0,0.8],[2001.1,1.5],[2001.3,3.5],[2001.5,1.3],[2001.6,2.3],[2001.7,5.5],[2002.0,0.5],[2002.1,1.3],[2002.2,1.8],[2002.2,2.5],[2002.2,3.2],[2002.3,4.2],[2002.4,2],[2002.5,1],[2002.6,2.4],[2003.0,8.4],[2003.3,1.2],[2003.5,3],[2003.6,0.8],[2003.8,2],[2004.2,2.8],[2004.5,3.5],[2004.5,2.5],[2006.5,1.5],[2006.7,2.2],[2006.8,4.8],[2007.0,2.4],[2007.1,3.5],[2007.5,2.7],[2008.5,2.5],[2008.5,3],[2010.0,1.2]];
// M 5.2 main shock marked in zone A (month index in countsA)
const mainShock = {zone: 0, month: 1, label: 'M 5.2'};

// ---------------- LAYOUT ----------------
const FF = '"Liberation Sans", Arial, Helvetica, sans-serif';
Chart.defaults.font.family = FF;
Chart.defaults.color = '#000';
const wrap = document.getElementById('wrap');
const rows = [
  {top: 17, bottom: 354, dtop: 390, dbottom: 559, ctop: 0},
  {top: 597, bottom: 932, dtop: 968, dbottom: 1137, ctop: 580}
];
const cols = [[37, 375], [463, 800], [890, 1227]];
const letters = [['(a)','(b)'],['(c)','(d)'],['(e)','(f)'],['(g)','(h)'],['(i)','(j)'],['(k)','(l)']];
const letterY = [23, 21, 30, 26, 23, 23];
const dletterY = [19, 17, 16, 17, 17, 17];
const zoneY = [9, 16, 15, 12, 14, 14];
const spikeDx = [[4], [4, 11], [], [], [], []];
const allCounts = [countsA, countsB, countsC, countsD, countsE, countsF];
const allDepths = [depthA, depthB, depthC, depthD, depthE, depthF];

function monthX(i) { return firstYear + (i + 0.5) / 12; }
function mk(left, top, w, h) {
  const c = document.createElement('canvas');
  c.width = w; c.height = h;
  c.style.left = left + 'px'; c.style.top = top + 'px';
  c.style.width = w + 'px'; c.style.height = h + 'px';
  wrap.appendChild(c); return c;
}
function txt(ctx, s, x, y, font, align, rot) {
  ctx.save(); ctx.font = font; ctx.fillStyle = '#000';
  ctx.textAlign = align || 'left'; ctx.textBaseline = 'middle';
  ctx.translate(x, y); if (rot) ctx.rotate(rot); ctx.fillText(s, 0, 0); ctx.restore();
}
function seg(ctx, x1, y1, x2, y2, w) {
  ctx.save(); ctx.beginPath(); ctx.lineWidth = w || 1.5; ctx.strokeStyle = '#000';
  ctx.moveTo(x1, y1); ctx.lineTo(x2, y2); ctx.stroke(); ctx.restore();
}
const axisBorder = {display: true, color: '#000', width: 2};
const tickFont = {size: 14, weight: 'bold'};

function countPanel(k) {
  const row = rows[Math.floor(k / 3)], [L, R] = cols[k % 3];
  const LW = 36, RW = 62, H = 385;
  const xH = H - 17 - (row.bottom - row.top);
  const cv = mk(L - LW, row.ctop, (R - L) + LW + RW, H);
  const counts = allCounts[k];
  const bars = [];
  counts.forEach((c, i) => { if (c > 0) bars.push({x: monthX(i), y: c}); });
  new Chart(cv, {
    type: 'bar',
    data: {datasets: [
      {type: 'line', label: 'Water level', data: wlYear.map((y, i) => ({x: y, y: wlLevel[i]})), yAxisID: 'y2',
       borderColor: '#000', borderWidth: 2, pointRadius: 0, cubicInterpolationMode: 'monotone', fill: false, order: 0},
      {type: 'bar', label: 'Number of earthquakes', data: bars, yAxisID: 'y', backgroundColor: '#000',
       barThickness: 1.2, clip: 0, order: 1}
    ]},
    options: {
      responsive: false, animation: false, events: [],
      layout: {padding: {top: 17, left: 0, right: 0, bottom: 0}},
      plugins: {legend: {display: false}, tooltip: {enabled: false}},
      scales: {
        x: {type: 'linear', position: 'bottom', min: 1980, max: 2010, offset: false,
            ticks: {stepSize: 5, autoSkip: false, maxRotation: 0, padding: 2, font: tickFont,
                    callback: v => { const s = String(v); return xTickLabels.includes(s) ? s : ''; }},
            grid: {display: true, offset: false, drawOnChartArea: false, drawTicks: true, tickLength: 5, tickWidth: 1.5, tickColor: '#000'},
            border: axisBorder, afterFit: s => { s.height = xH; }},
        y: {type: 'linear', position: 'left', min: 0, max: 20,
            ticks: {stepSize: 4, mirror: true, padding: 7, font: tickFont,
                    callback: v => { const s = String(v); return countTicks.includes(s) ? s : ''; }},
            grid: {display: true, drawOnChartArea: false, drawTicks: false},
            border: axisBorder, afterFit: s => { s.width = LW; }},
        y2: {type: 'linear', position: 'right', min: 150, max: 190,
            ticks: {stepSize: 10, padding: 1, font: tickFont,
                    callback: v => { const s = String(v); return waterTicks.includes(s) ? s : ''; }},
            grid: {display: true, drawOnChartArea: false, drawTicks: true, tickLength: 4, tickWidth: 1.5, tickColor: '#000'},
            border: axisBorder, afterFit: s => { s.width = RW; }}
      }
    },
    plugins: [{
      id: 'deco' + k,
      afterDraw(chart) {
        const ctx = chart.ctx, a = chart.chartArea, ys = chart.scales.y, xs = chart.scales.x;
        ys.ticks.forEach(t => { if (t.value > 0) { const py = ys.getPixelForValue(t.value); seg(ctx, a.left, py, a.left + 5, py); } });
        const cy = (a.top + a.bottom) / 2;
        txt(ctx, 'Number of earthquakes', a.left - 18, cy, 'bold 16px ' + FF, 'center', -Math.PI / 2);
        txt(ctx, 'Water level (m)', a.right + 46, cy, 'bold 16px ' + FF, 'center', -Math.PI / 2);
        txt(ctx, letters[k][0], a.left + 4, a.top + letterY[k], 'bold 20px ' + FF, 'left');
        txt(ctx, zoneNames[k], a.right - 6, a.top + zoneY[k], 'italic bold 17px ' + FF, 'right');
        let n = 0;
        counts.forEach((c, i) => {
          if (c > ys.max) {
            const px = xs.getPixelForValue(monthX(i));
            txt(ctx, String(c), px + (spikeDx[k][n++] || 4), a.top + 4, 'italic bold 12px ' + FF, 'left');
          }
        });
        if (mainShock.zone === k) {
          const c = counts[mainShock.month], px = xs.getPixelForValue(monthX(mainShock.month)) - 1;
          txt(ctx, mainShock.label, px - 1, ys.getPixelForValue(c + 2.45), 'bold 13px ' + FF, 'center', -Math.PI / 2);
          const y1 = ys.getPixelForValue(c + 1.3), y2 = ys.getPixelForValue(c + 0.05);
          seg(ctx, px, y1, px, y2 - 4, 1.2);
          ctx.save(); ctx.beginPath(); ctx.fillStyle = '#000';
          ctx.moveTo(px, y2); ctx.lineTo(px - 3, y2 - 7); ctx.lineTo(px + 3, y2 - 7); ctx.closePath(); ctx.fill(); ctx.restore();
        }
      }
    }]
  });
}

function depthPanel(k) {
  const row = rows[Math.floor(k / 3)], [L, R] = cols[k % 3];
  const LW = 36, RW = 62, TP = 10, H = 192;
  const areaH = row.dbottom - row.dtop;
  const cv = mk(L - LW, row.dtop - TP, (R - L) + LW + RW, H);
  new Chart(cv, {
    type: 'scatter',
    data: {datasets: [{label: 'Depth', data: allDepths[k].map(p => ({x: p[0], y: p[1]})),
      pointRadius: 2.8, pointBorderWidth: 0.9, pointBorderColor: 'rgba(20,20,20,0.85)',
      pointBackgroundColor: 'rgba(0,0,0,0)', showLine: false, clip: false}]},
    options: {
      responsive: false, animation: false, events: [],
      layout: {padding: {top: 0, left: 0, right: RW, bottom: H - TP - areaH}},
      plugins: {legend: {display: false}, tooltip: {enabled: false}},
      scales: {
        x: {type: 'linear', position: 'top', min: 1980, max: 2010,
            ticks: {stepSize: 5, display: false},
            grid: {display: true, drawOnChartArea: false, drawTicks: false},
            border: axisBorder, afterFit: s => { s.height = TP; }},
        y: {type: 'linear', position: 'left', min: 0, max: 30, reverse: true,
            ticks: {stepSize: 10, mirror: true, padding: 7, font: tickFont,
                    callback: v => { const s = String(v); return depthTicks.includes(s) ? s : ''; }},
            grid: {display: true, drawOnChartArea: false, drawTicks: false},
            border: axisBorder, afterFit: s => { s.width = LW; }}
      }
    },
    plugins: [{
      id: 'ddeco' + k,
      afterDraw(chart) {
        const ctx = chart.ctx, a = chart.chartArea, ys = chart.scales.y, xs = chart.scales.x;
        ys.ticks.forEach(t => { if (t.value > 0) { const py = ys.getPixelForValue(t.value); seg(ctx, a.left, py, a.left + 5, py); } });
        xs.ticks.forEach(t => { if (t.value > xs.min) { const px = xs.getPixelForValue(t.value); seg(ctx, px, a.top, px, a.top + 5); } });
        txt(ctx, 'Depth (km)', a.left - 18, (a.top + a.bottom) / 2, 'bold 16px ' + FF, 'center', -Math.PI / 2);
        txt(ctx, letters[k][1], a.left + 4, a.top + dletterY[k], 'bold 20px ' + FF, 'left');
      }
    }]
  });
}

for (let k = 0; k < 6; k++) { countPanel(k); depthPanel(k); }
</script>
</body></html>
